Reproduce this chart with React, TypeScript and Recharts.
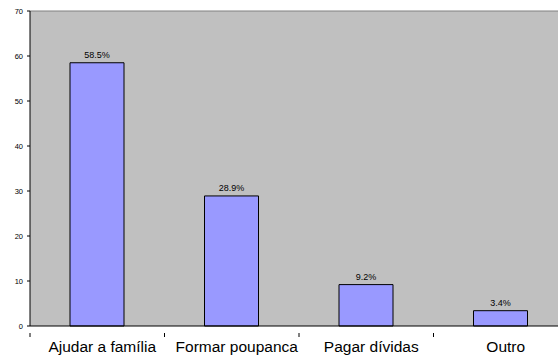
import React from "react";
import { BarChart, Bar, XAxis, YAxis, CartesianGrid, LabelList, ReferenceLine } from "recharts";

const categories = ["Ajudar a família", "Formar poupanca", "Pagar dívidas", "Outro"];
const values = [58.5, 28.9, 9.2, 3.4];
const valueLabels = ["58.5%", "28.9%", "9.2%", "3.4%"];
const yTicks = [0, 10, 20, 30, 40, 50, 60, 70];

const data = categories.map((c, i) => ({ name: c, value: values[i], label: valueLabels[i] }));

const W = 570;
const H = 356;
const M = { top: 11, right: 2, left: 0, bottom: 0 };
const Y_W = 30;
const X_H = 30;

const XTick = (props: any) => {
  const { x, y, payload } = props;
  const half = payload && payload.offset ? payload.offset : (W - M.right - M.left - Y_W) / categories.length / 2;
  return (
    <g>
      <line x1={x - half} y1={y - 1} x2={x - half} y2={y + 3} stroke="#000" strokeWidth={1} />
      <text x={x + 5} y={y + 18} textAnchor="middle" fontSize={15.5} fill="#000" fontFamily="Liberation Sans, Arial, sans-serif">
        {payload.value}
      </text>
    </g>
  );
};

export default function App() {
  return (
    <div style={{ position: "absolute", left: 0, top: 0, width: W, height: H }}>
      <BarChart width={W} height={H} data={data} margin={M} barCategoryGap={0}>
        <CartesianGrid horizontal={false} vertical={false} fill="#C0C0C0" />
        <ReferenceLine y={70} stroke="#808080" strokeWidth={1} ifOverflow="extendDomain" />
        <XAxis
          dataKey="name"
          height={X_H}
          axisLine={{ stroke: "#000" }}
          tickLine={false}
          tick={<XTick />}
          interval={0}
        />
        <YAxis
          domain={[0, 70]}
          ticks={yTicks}
          width={Y_W}
          axisLine={{ stroke: "#000" }}
          tickLine={{ stroke: "#000" }}
          tickSize={3}
          tickMargin={4}
          tick={{ fontSize: 7.5, fill: "#000", fontFamily: "Liberation Sans, Arial, sans-serif" }}
          interval={0}
        />
        <Bar dataKey="value" fill="#9999FF" stroke="#000" strokeWidth={1} barSize={54} isAnimationActive={false}>
          <LabelList dataKey="label" position="top" offset={5} fontSize={9} fill="#000" fontFamily="Liberation Sans, Arial, sans-serif" />
        </Bar>
      </BarChart>
    </div>
  );
}
